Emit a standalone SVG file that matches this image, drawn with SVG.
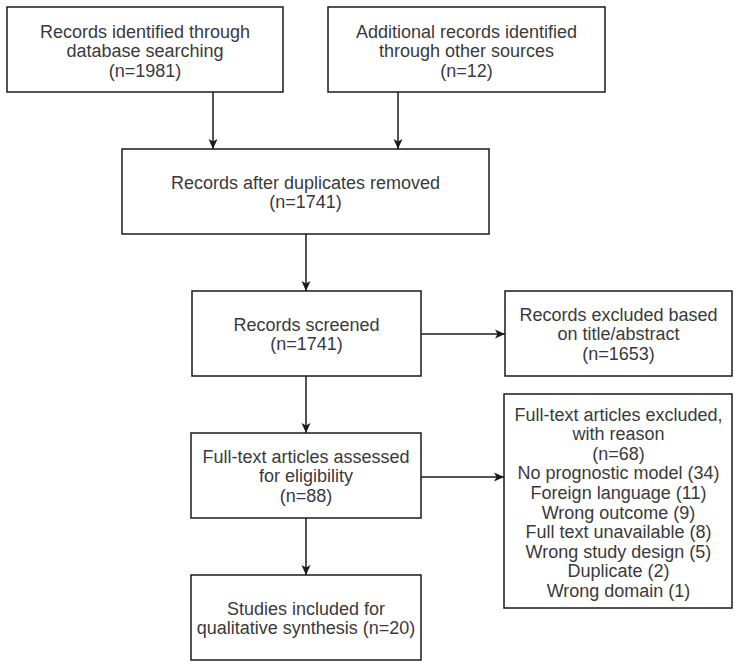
<svg xmlns="http://www.w3.org/2000/svg" width="736" height="672" viewBox="0 0 736 672">
<style>
  .box { fill: #ffffff; stroke: #1a1a1a; stroke-width: 1.5; }
  .t { font-family: "Liberation Sans", Arial, sans-serif; font-size: 18px; fill: #3a3a3a; text-anchor: middle; }
  .edge { fill: none; stroke: #1a1a1a; stroke-width: 1.5; marker-end: url(#arrow); }
</style>
<defs>
  <marker id="arrow" markerUnits="userSpaceOnUse" markerWidth="12" markerHeight="12" viewBox="0 0 12 12" refX="11" refY="6" orient="auto">
    <path d="M1,1.5 L11,6 L1,10.5 L3.5,6 Z" fill="#1a1a1a"/>
  </marker>
</defs>
<rect width="736" height="672" fill="#ffffff"/>

<g id="edges">
  <line class="edge" x1="213" y1="92" x2="213" y2="149"/>
  <line class="edge" x1="398" y1="92" x2="398" y2="149"/>
  <line class="edge" x1="306" y1="234" x2="306" y2="291"/>
  <line class="edge" x1="421" y1="334" x2="505" y2="334"/>
  <line class="edge" x1="306" y1="376" x2="306" y2="433"/>
  <line class="edge" x1="421" y1="477" x2="504" y2="477"/>
  <line class="edge" x1="306" y1="518" x2="306" y2="575"/>
</g>

<g id="db-records">
  <rect class="box" x="7" y="7" width="276" height="85"/>
  <text class="t" x="145" y="37.5">Records identified through</text>
  <text class="t" x="145" y="57">database searching</text>
  <text class="t" x="145" y="76.5">(n=1981)</text>
</g>

<g id="other-records">
  <rect class="box" x="328" y="7" width="277" height="85"/>
  <text class="t" x="466.5" y="37.5">Additional records identified</text>
  <text class="t" x="466.5" y="57">through other sources</text>
  <text class="t" x="466.5" y="76.5">(n=12)</text>
</g>

<g id="dedup">
  <rect class="box" x="122" y="149" width="367" height="85"/>
  <text class="t" x="305.5" y="188.5">Records after duplicates removed</text>
  <text class="t" x="305.5" y="208">(n=1741)</text>
</g>

<g id="screened">
  <rect class="box" x="192" y="291" width="229" height="85"/>
  <text class="t" x="306.5" y="330.5">Records screened</text>
  <text class="t" x="306.5" y="350">(n=1741)</text>
</g>

<g id="excluded-title">
  <rect class="box" x="505" y="291" width="227" height="85"/>
  <text class="t" x="618.5" y="320.5">Records excluded based</text>
  <text class="t" x="618.5" y="340">on title/abstract</text>
  <text class="t" x="618.5" y="359.5">(n=1653)</text>
</g>

<g id="fulltext-assessed">
  <rect class="box" x="191" y="433" width="230" height="85"/>
  <text class="t" x="306" y="462.5">Full-text articles assessed</text>
  <text class="t" x="306" y="482">for eligibility</text>
  <text class="t" x="306" y="501.5">(n=88)</text>
</g>

<g id="fulltext-excluded">
  <rect class="box" x="504" y="394" width="228" height="214"/>
  <text class="t" x="618.5" y="420.5">Full-text articles excluded,</text>
  <text class="t" x="618.5" y="440.1">with reason</text>
  <text class="t" x="618.5" y="459.7">(n=68)</text>
  <text class="t" x="618.5" y="479.3">No prognostic model (34)</text>
  <text class="t" x="618.5" y="498.9">Foreign language (11)</text>
  <text class="t" x="618.5" y="518.5">Wrong outcome (9)</text>
  <text class="t" x="618.5" y="538.1">Full text unavailable (8)</text>
  <text class="t" x="618.5" y="557.7">Wrong study design (5)</text>
  <text class="t" x="618.5" y="577.3">Duplicate (2)</text>
  <text class="t" x="618.5" y="596.9">Wrong domain (1)</text>
</g>

<g id="included">
  <rect class="box" x="191" y="575" width="230" height="85"/>
  <text class="t" x="306" y="614.5">Studies included for</text>
  <text class="t" x="306" y="634">qualitative synthesis (n=20)</text>
</g>
</svg>
